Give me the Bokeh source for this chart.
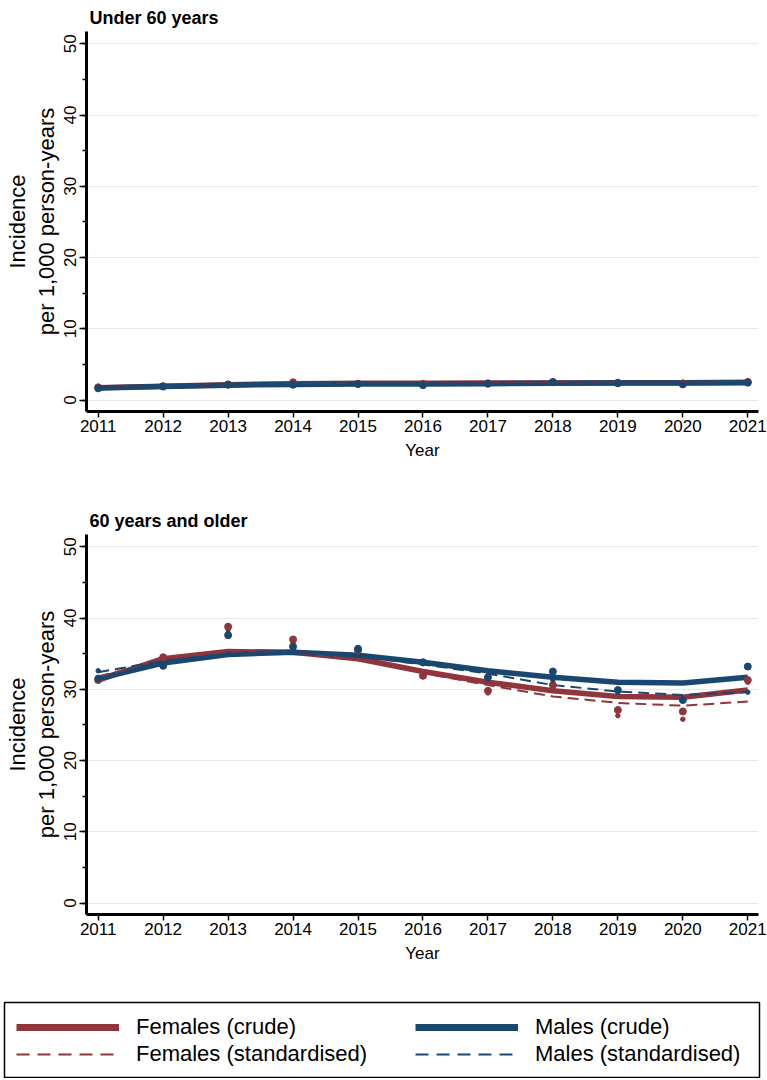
from bokeh.plotting import figure
from bokeh.models import Range1d, SingleIntervalTicker, FixedTicker, Legend, LegendItem, Title
from bokeh.layouts import column
from bokeh.embed import file_html
from bokeh.resources import INLINE

years = list(range(2011, 2022))
year_ticks = years

# ---- Under 60 years: observed points ----
u60_f_crude_pts = [1.80, 1.95, 2.20, 2.50, 2.30, 2.30, 2.35, 2.55, 2.45, 2.35, 2.55]
u60_f_std_pts = [1.75, 1.90, 2.15, 2.40, 2.25, 2.25, 2.30, 2.50, 2.40, 2.30, 2.50]
u60_m_crude_pts = [1.65, 1.90, 2.15, 2.15, 2.25, 2.10, 2.30, 2.50, 2.35, 2.20, 2.45]
u60_m_std_pts = [1.65, 1.90, 2.10, 2.15, 2.20, 2.10, 2.25, 2.45, 2.30, 2.20, 2.40]
# ---- Under 60 years: smoothed fits ----
u60_f_crude_fit = [1.75, 1.95, 2.15, 2.30, 2.35, 2.35, 2.40, 2.40, 2.45, 2.45, 2.50]
u60_f_std_fit = [1.70, 1.90, 2.10, 2.25, 2.30, 2.30, 2.35, 2.35, 2.40, 2.40, 2.45]
u60_m_crude_fit = [1.70, 1.90, 2.10, 2.20, 2.25, 2.25, 2.30, 2.35, 2.40, 2.40, 2.45]
u60_m_std_fit = [1.70, 1.90, 2.10, 2.20, 2.20, 2.25, 2.30, 2.30, 2.35, 2.35, 2.40]

# ---- 60 years and older: observed points ----
o60_f_crude_pts = [31.3, 34.5, 38.8, 37.0, 35.5, 31.9, 29.8, 30.6, 27.1, 26.9, 31.3]
o60_f_std_pts = [31.6, 34.3, 38.4, 36.6, 35.3, 31.8, 29.5, 30.3, 26.3, 25.8, 31.0]
o60_m_crude_pts = [31.5, 33.3, 37.6, 36.0, 35.7, 33.8, 31.7, 32.5, 29.9, 28.5, 33.2]
o60_m_std_pts = [32.6, 33.6, 37.9, 35.8, 35.5, 33.6, 31.4, 31.3, 29.6, 28.4, 29.6]
# ---- 60 years and older: smoothed fits ----
o60_f_crude_fit = [31.3, 34.3, 35.3, 35.2, 34.3, 32.5, 31.0, 29.8, 29.0, 28.9, 29.9]
o60_f_std_fit = [31.8, 34.2, 35.2, 35.2, 34.2, 32.3, 30.6, 29.0, 28.1, 27.7, 28.3]
o60_m_crude_fit = [31.5, 33.7, 34.9, 35.2, 34.8, 33.8, 32.6, 31.7, 31.0, 30.9, 31.7]
o60_m_std_fit = [32.4, 34.0, 35.0, 35.2, 34.6, 33.5, 32.2, 30.6, 29.7, 29.2, 29.6]

titles = ["Under 60 years", "60 years and older"]
y_label_lines = ["Incidence", "per 1,000 person-years"]
x_label = "Year"
legend_labels = ["Females (crude)", "Females (standardised)",
                 "Males (crude)", "Males (standardised)"]

FEM = "#90353B"
MAL = "#1A476F"
GRID = "#e1eaec"
FONT = "Liberation Sans"
W = 767


def panel(title, height, top, bottom, pts, fits):
    p = figure(width=W, height=height, output_backend="svg", toolbar_location=None,
               x_range=Range1d(2010.82, 2021.165), y_range=Range1d(-1.6, 51.73),
               min_border_left=86, min_border_right=9,
               min_border_top=top, min_border_bottom=bottom,
               title=title)
    p.outline_line_color = None
    p.title.text_font = FONT
    p.title.text_font_size = "18px"
    p.title.text_font_style = "bold"
    p.title.text_color = "black"
    p.title.offset = 3
    p.title.standoff = 8
    p.title.text_line_height = 1.0

    f_crude_fit, f_std_fit, m_crude_fit, m_std_fit = fits
    f_crude, f_std, m_crude, m_std = pts

    p.line(years, f_crude_fit, line_color=FEM, line_width=5.5)
    p.line(years, m_crude_fit, line_color=MAL, line_width=5.5)
    p.line(years, f_std_fit, line_color=FEM, line_width=2, line_dash="11 6")
    p.line(years, m_std_fit, line_color=MAL, line_width=2, line_dash="11 6")
    p.scatter(years, f_std, size=4.5, color=FEM)
    p.scatter(years, f_crude, size=7, color=FEM)
    p.scatter(years, m_std, size=4.5, color=MAL)
    p.scatter(years, m_crude, size=7, color=MAL)

    p.xaxis.ticker = FixedTicker(ticks=year_ticks)
    p.xaxis.axis_label = x_label
    p.yaxis.ticker = SingleIntervalTicker(interval=10, num_minor_ticks=2)
    p.yaxis.major_label_orientation = "vertical"
    for ax in (p.xaxis, p.yaxis):
        ax.axis_line_width = 3
        ax.axis_line_color = "black"
        ax.major_tick_in = 0
        ax.major_tick_line_width = 1.5
        ax.major_tick_line_color = "black"
        ax.major_label_text_font = FONT
        ax.major_label_text_font_size = "17px"
        ax.major_label_text_color = "black"
        ax.axis_label_text_font = FONT
        ax.axis_label_text_font_size = "17px"
        ax.axis_label_text_font_style = "normal"
        ax.axis_label_text_color = "black"
    p.xaxis.major_tick_out = 6
    p.xaxis.minor_tick_line_color = None
    p.xaxis.major_label_standoff = 2
    p.xaxis.axis_label_standoff = 6
    p.yaxis.major_tick_out = 7
    p.yaxis.minor_tick_in = 0
    p.yaxis.minor_tick_out = 4
    p.yaxis.minor_tick_line_width = 1.5
    p.yaxis.minor_tick_line_color = "black"
    p.yaxis.major_label_standoff = 3

    # two-line y-axis label, inner line first
    for text, standoff in ((y_label_lines[1], 5), (y_label_lines[0], 0)):
        t = Title(text=text, align="center", text_font=FONT, text_font_size="22px",
                  text_font_style="normal", text_color="black",
                  text_line_height=0.86, standoff=standoff, offset=14)
        p.add_layout(t, "left")

    p.xgrid.visible = False
    p.ygrid.grid_line_color = GRID
    p.ygrid.grid_line_width = 1.2
    return p


p1 = panel(titles[0], 480, 31, 69,
           (u60_f_crude_pts, u60_f_std_pts, u60_m_crude_pts, u60_m_std_pts),
           (u60_f_crude_fit, u60_f_std_fit, u60_m_crude_fit, u60_m_std_fit))
p2 = panel(titles[1], 505, 54, 71,
           (o60_f_crude_pts, o60_f_std_pts, o60_m_crude_pts, o60_m_std_pts),
           (o60_f_crude_fit, o60_f_std_fit, o60_m_crude_fit, o60_m_std_fit))

# ---- legend panel (pixel-like coordinates) ----
LH = 93
p3 = figure(width=W, height=LH, output_backend="svg", toolbar_location=None,
            x_range=Range1d(0, W), y_range=Range1d(0, LH),
            x_axis_type=None, y_axis_type=None,
            min_border=0, min_border_left=0, min_border_right=0,
            min_border_top=0, min_border_bottom=0)
p3.frame_align = False
p3.grid.visible = False
p3.outline_line_color = None
BOX_L, BOX_R, BOX_B, BOX_T = 4, 759, 1, 76
p3.quad(left=[BOX_L], right=[BOX_R], bottom=[BOX_B], top=[BOX_T],
        fill_color=None, line_color="black", line_width=1.5)

# stand-ins placed outside the visible range so the legend can draw its samples
hx = [-200, -100]
hy = [-200, -200]
r_fc = p3.line(hx, hy, line_color=FEM, line_width=7)
r_fs = p3.line(hx, hy, line_color=FEM, line_width=2, line_dash="13 8")
r_mc = p3.line(hx, hy, line_color=MAL, line_width=7)
r_ms = p3.line(hx, hy, line_color=MAL, line_width=2, line_dash="13 8")


def make_legend(items, x):
    return Legend(items=items, location=(x, 11), orientation="vertical",
                  glyph_width=103, glyph_height=26, label_height=26, spacing=1,
                  label_standoff=17, padding=0, margin=0,
                  border_line_color=None, background_fill_alpha=0,
                  label_text_font=FONT, label_text_font_size="22px",
                  label_text_color="black")


lg1 = make_legend([LegendItem(label=legend_labels[0], renderers=[r_fc]),
                   LegendItem(label=legend_labels[1], renderers=[r_fs])], 16)
lg2 = make_legend([LegendItem(label=legend_labels[2], renderers=[r_mc]),
                   LegendItem(label=legend_labels[3], renderers=[r_ms])], 415)
p3.add_layout(lg1)
p3.add_layout(lg2)

layout = column(p1, p2, p3, spacing=0)
open("out.html", "w").write(file_html(layout, INLINE))
